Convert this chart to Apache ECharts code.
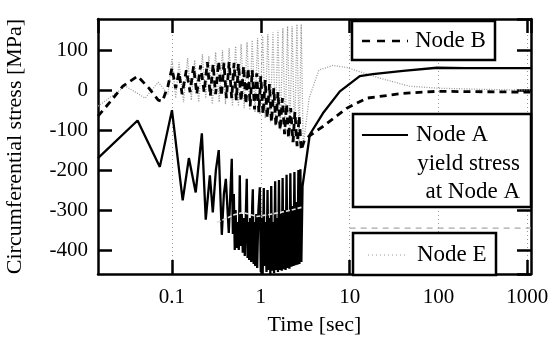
<!DOCTYPE html>
<html>
<head>
    <meta charset="utf-8">
    <title>Circumferential stress</title>
    <script src="https://cdn.jsdelivr.net/npm/echarts@6/dist/echarts.min.js"></script>
    <style type="text/css">
        * { margin: 0; padding: 0; }
        body { background: #fff; }
        #main { width: 553px; height: 338px; }
    </style>
</head>
<body>
<div id="main"></div>
<script type="text/javascript">
    // Node A (solid)
    var nodeATime = [0.0147, 0.041, 0.073, 0.1, 0.132, 0.155, 0.185, 0.217, 0.240, 0.267, 0.288, 0.312, 0.336, 0.364,
        0.384, 0.404, 0.436, 0.45, 0.471, 0.485, 0.497, 0.509, 0.52, 0.535, 0.55, 0.565, 0.58, 0.595, 0.61, 0.627,
        0.645, 0.66, 0.68, 0.695, 0.71, 0.725, 0.74, 0.76, 0.78, 0.8, 0.813, 0.83, 0.85, 0.865, 0.89, 0.91, 0.94,
        0.975, 1.0, 1.025, 1.05, 1.08, 1.10, 1.13, 1.16, 1.19, 1.22, 1.25, 1.28, 1.31, 1.34, 1.37, 1.41, 1.45, 1.48,
        1.52, 1.56, 1.60, 1.64, 1.68, 1.72, 1.76, 1.80, 1.85, 1.90, 1.95, 2.00, 2.05, 2.10, 2.15, 2.21, 2.27, 2.33,
        2.39, 2.45, 2.52, 2.58, 2.65, 2.72, 2.79, 2.86, 2.95,
        3.56, 5.0, 7.76, 13, 18.2, 40, 96, 200, 1100];
    var nodeAStress = [-170, -76, -192, -50, -276, -170, -256, -108, -324, -213, -306, -200, -150, -362,
        -260, -222, -357, -280, -172, -360, -260, -400, -300, -395, -330, -400, -213, -390, -310, -407,
        -320, -415, -300, -222, -420, -330, -425, -320, -430, -290, -248, -435, -330, -440, -310, -445, -300,
        -243, -455, -320, -460, -245, -440, -330, -455, -250, -450, -320, -460, -240, -452, -330, -458, -228, -450,
        -320, -455, -225, -450, -310, -452, -220, -448, -300, -450, -212, -445, -300, -447, -208, -442, -290, -440,
        -205, -438, -280, -437, -200, -435, -198, -430, -240,
        -111, -58, -3, 35, 40, 48, 56, 55, 55];

    // Node B (dashed)
    var nodeBTime = [0.0147, 0.02, 0.028, 0.041, 0.055, 0.07, 0.078, 0.09, 0.1, 0.11, 0.12, 0.13, 0.145, 0.16,
        0.175, 0.19, 0.21, 0.23, 0.25, 0.27, 0.29, 0.31, 0.335, 0.36, 0.385, 0.41, 0.44, 0.47, 0.50, 0.53, 0.56,
        0.60, 0.64, 0.68, 0.72, 0.76, 0.80, 0.85, 0.90, 0.95, 1.0, 1.06, 1.12, 1.18, 1.25, 1.32, 1.40, 1.48, 1.56,
        1.65, 1.75, 1.85, 1.95, 2.05, 2.17, 2.3, 2.42, 2.56, 2.7, 2.85, 3.1, 3.5, 5.0, 9.3, 15.6, 40, 96, 1100];
    var nodeBStress = [-65, -30, 10, 35, 5, -25, -28, 10, 55, 5, 45, -10, 50, -5,
        60, -10, 62, -5, 70, -15, 65, -10, 72, -15, 68, -20, 70, -20, 68, -25, 66,
        -28, 60, -35, 55, -40, 50, -48, 42, -55, 35, -60, 25, -70, 15, -80, 5, -90, -5,
        -100, -20, -110, -35, -120, -45, -130, -55, -140, -65, -150, -125, -115, -91, -45, -20, -8, -3, -5];

    // Node E (grey dotted)
    var nodeETime = [0.0147, 0.03, 0.05, 0.07, 0.09, 0.1, 0.11, 0.12, 0.135, 0.15, 0.165, 0.18, 0.2, 0.22, 0.24,
        0.26, 0.285, 0.31, 0.34, 0.37, 0.40, 0.44, 0.48, 0.52, 0.56, 0.60, 0.65, 0.70, 0.75, 0.80, 0.86, 0.92,
        0.98, 1.05, 1.12, 1.2, 1.28, 1.37, 1.46, 1.56, 1.66, 1.77, 1.88, 2.0, 2.12, 2.25, 2.4, 2.55, 2.7, 2.85,
        3.0, 3.5, 4.5, 6.5, 9.5, 21.8, 47, 96, 300, 1100];
    var nodeEStress = [-40, 10, -20, 20, -10, 80, -20, 70, -30, 80, -25, 75, -30, 90, -20,
        85, -35, 95, -30, 100, -35, 105, -40, 110, -40, 115, -45, 120, -50, 125, -55, 130,
        -60, 135, -70, 140, -80, 145, -90, 150, -100, 155, -110, 160, -120, 160, -130, 165, -135, 165,
        -140, -20, 50, 62, 56, 30, 10, 5, 2, 0];

    // yield stress at Node A
    var yieldTime1 = [0.32, 0.4, 0.5, 0.63, 0.9, 1.2, 1.64, 2.2, 2.9];
    var yieldStress1 = [-331, -322, -312, -306, -316, -312, -306, -300, -293];
    var yieldTime2 = [10, 1100];
    var yieldStress2 = [-345, -345];

    var yTicks = [100, 0, -100, -200, -300, -400];

    function pairs(t, v) {
        var out = [];
        for (var i = 0; i < t.length; i++) out.push([t[i], v[i]]);
        return out;
    }

    var serif = '"Liberation Serif", "Times New Roman", serif';
    var myChart = echarts.init(document.getElementById('main'));

    function logLabel(v) {
        var l = Math.log(v) / Math.LN10;
        if (Math.abs(l - Math.round(l)) > 1e-6) return '';
        var p = Math.round(l);
        if (p < -1 || p > 3) return '';
        return String(Math.pow(10, p));
    }

    var option = {
        animation: false,
        backgroundColor: '#fff',
        grid: { left: 98, right: 22, top: 19, bottom: 64, containLabel: false, outerBoundsMode: 'none' },
        xAxis: [{
            type: 'log',
            min: 0.0147,
            max: 1100,
            name: 'Time [sec]',
            nameLocation: 'middle',
            nameGap: 40,
            nameTextStyle: { fontFamily: serif, fontSize: 22, color: '#000' },
            axisLine: { onZero: false, lineStyle: { color: '#000', width: 2.5 } },
            axisTick: { inside: true, length: 14, lineStyle: { color: '#000', width: 2.5 } },
            minorTick: { show: false },
            axisLabel: {
                fontFamily: serif, fontSize: 21, color: '#000', margin: 13,
                showMinLabel: false, showMaxLabel: false, formatter: logLabel
            },
            splitLine: { show: true, lineStyle: { color: '#999', width: 1, type: [1, 3] } }
        }, {
            type: 'log',
            position: 'top',
            min: 0.0147,
            max: 1100,
            axisLine: { onZero: false, lineStyle: { color: '#000', width: 2.5 } },
            axisTick: { inside: true, length: 14, lineStyle: { color: '#000', width: 2.5 } },
            axisLabel: { show: false },
            splitLine: { show: false }
        }],
        yAxis: [{
            type: 'value',
            min: -460,
            max: 178,
            splitNumber: 6,
            name: 'Circumferential stress [MPa]',
            nameLocation: 'middle',
            nameGap: 72,
            nameTextStyle: { fontFamily: serif, fontSize: 22, color: '#000' },
            axisLine: { show: true, onZero: false, lineStyle: { color: '#000', width: 2.5 } },
            axisTick: { show: true, inside: true, length: 14, lineStyle: { color: '#000', width: 2.5 } },
            axisLabel: {
                fontFamily: serif, fontSize: 21, color: '#000', margin: 10,
                showMinLabel: false, showMaxLabel: false,
                formatter: function (v) { return yTicks.indexOf(v) >= 0 ? String(v) : ''; }
            },
            splitLine: { show: false }
        }, {
            type: 'value',
            position: 'right',
            min: -460,
            max: 178,
            splitNumber: 6,
            axisLine: { show: true, onZero: false, lineStyle: { color: '#000', width: 2.5 } },
            axisTick: { show: true, inside: true, length: 14, lineStyle: { color: '#000', width: 2.5 } },
            axisLabel: { show: false },
            splitLine: { show: false }
        }],
        series: [{
            name: 'Node E',
            type: 'line',
            showSymbol: false,
            z: 2,
            lineStyle: { color: '#9a9a9a', width: 1.3, type: [1, 1.5] },
            data: pairs(nodeETime, nodeEStress)
        }, {
            name: 'Node B',
            type: 'line',
            showSymbol: false,
            z: 3,
            lineStyle: { color: '#000', width: 2.8, type: [7, 5] },
            data: pairs(nodeBTime, nodeBStress)
        }, {
            name: 'Node A',
            type: 'line',
            showSymbol: false,
            z: 4,
            lineStyle: { color: '#000', width: 2.3 },
            data: pairs(nodeATime, nodeAStress)
        }, {
            name: 'yield stress',
            type: 'line',
            showSymbol: false,
            z: 5,
            lineStyle: { color: '#e2e2e2', width: 1.6, type: [4, 2] },
            data: pairs(yieldTime1, yieldStress1)
        }, {
            name: 'yield stress',
            type: 'line',
            showSymbol: false,
            z: 5,
            lineStyle: { color: '#a8a8a8', width: 1.2, type: [6, 5] },
            data: pairs(yieldTime2, yieldStress2)
        }],
        graphic: [
            // Node B box
            { type: 'rect', z: 100, shape: { x: 352, y: 21, width: 143, height: 39 },
              style: { fill: '#fff', stroke: '#000', lineWidth: 2.5 } },
            { type: 'line', z: 101, shape: { x1: 362, y1: 41, x2: 408, y2: 41 },
              style: { stroke: '#000', lineWidth: 2.6, lineDash: [8, 7] } },
            { type: 'text', z: 101, x: 415, y: 41,
              style: { text: 'Node B', font: '23px ' + serif, fill: '#000', align: 'left', verticalAlign: 'middle' } },
            // Node A box
            { type: 'rect', z: 100, shape: { x: 353, y: 114, width: 178, height: 93 },
              style: { fill: '#fff', stroke: '#000', lineWidth: 2.5 } },
            { type: 'line', z: 101, shape: { x1: 362, y1: 135, x2: 408, y2: 135 },
              style: { stroke: '#000', lineWidth: 2.2 } },
            { type: 'text', z: 101, x: 416, y: 135,
              style: { text: 'Node A', font: '23px ' + serif, fill: '#000', align: 'left', verticalAlign: 'middle' } },
            { type: 'text', z: 101, x: 520, y: 164,
              style: { text: 'yield stress', font: '23px ' + serif, fill: '#000', align: 'right', verticalAlign: 'middle' } },
            { type: 'text', z: 101, x: 520, y: 192,
              style: { text: 'at Node A', font: '23px ' + serif, fill: '#000', align: 'right', verticalAlign: 'middle' } },
            // Node E box
            { type: 'rect', z: 100, shape: { x: 353, y: 233, width: 143, height: 42 },
              style: { fill: '#fff', stroke: '#000', lineWidth: 2.5 } },
            { type: 'line', z: 101, shape: { x1: 368, y1: 255, x2: 406, y2: 255 },
              style: { stroke: '#999', lineWidth: 1.2, lineDash: [1, 3] } },
            { type: 'text', z: 101, x: 417, y: 255,
              style: { text: 'Node E', font: '23px ' + serif, fill: '#000', align: 'left', verticalAlign: 'middle' } }
        ]
    };

    myChart.setOption(option);
</script>
</body>
</html>
